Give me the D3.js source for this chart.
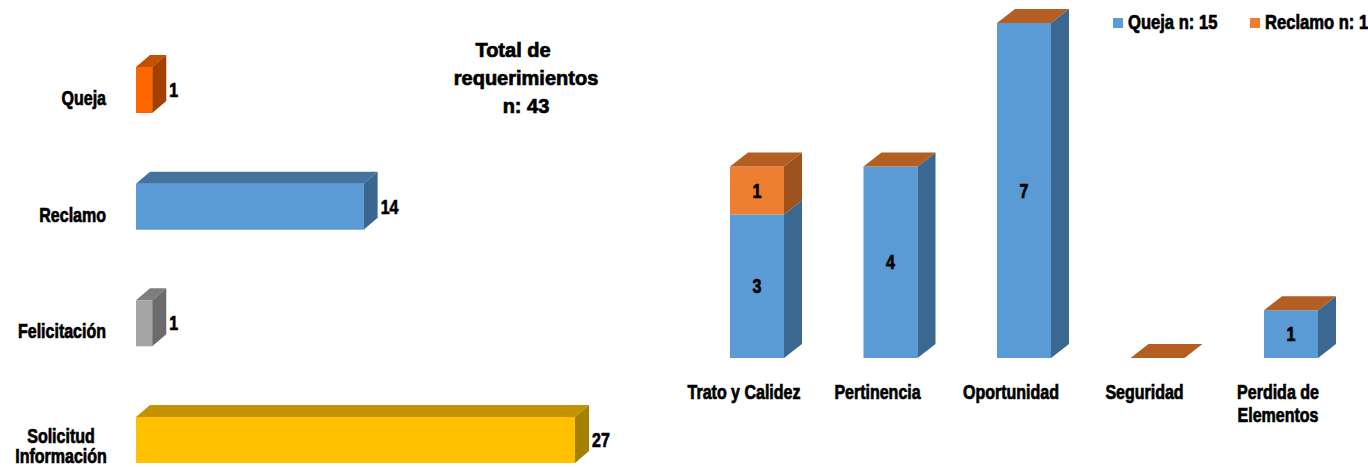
<!DOCTYPE html>
<html>
<head>
<meta charset="UTF-8">
<title>Requerimientos</title>
<script src="https://d3js.org/d3.v7.min.js"></script>
<style>
  body { margin: 0; padding: 0; background: #fff; }
  svg text { font-family: "Liberation Sans", Arial, sans-serif; font-weight: bold; fill: #000; stroke: #000; stroke-width: 0.7px; }
</style>
</head>
<body>
<svg id="chart" width="1368" height="467"></svg>
<script>
// ---- datos ----
const tipoLabels = [["Queja"], ["Reclamo"], ["Felicitación"], ["Solicitud", "Información"]];
const tipoCats = tipoLabels.map(d => d.join(" "));
const tipoValues = [1, 14, 1, 27];

const motivoLabels = [["Trato y Calidez"], ["Pertinencia"], ["Oportunidad"], ["Seguridad"], ["Perdida de", "Elementos"]];
const motivoCats = motivoLabels.map(d => d.join(" "));
const quejaValues = [3, 4, 7, 0, 1];
const reclamoValues = [1, 0, 0, 0, 0];
const seriesNames = ["Queja n: 15", "Reclamo n: 1"];
const titleLines = ["Total de", "requerimientos", "n: 43"];

// ---- estilos ----
const tipoColors = [
  { front: "#FF6600", top: "#C25000", side: "#A33F00" },
  { front: "#5B9BD5", top: "#44739E", side: "#3A6690" },
  { front: "#A5A5A5", top: "#7E7E7E", side: "#6B6B6B" },
  { front: "#FFC000", top: "#C49300", side: "#A68000" }
];
const serieColors = [
  { front: "#5B9BD5", side: "#3B6890", top: "#B45E22" },
  { front: "#ED7D31", side: "#9E521E", top: "#B45E22" }
];
const SX = 0.8; // letra condensada

const svg = d3.select("#chart");

function face(g, pts, fill) {
  g.append("polygon")
    .attr("points", pts.map(p => p.join(",")).join(" "))
    .attr("fill", fill);
}

// texto comprimido horizontalmente
function label(g, x, y, s, size, anchor, sx) {
  return g.append("text")
    .attr("transform", `translate(${x},${y}) scale(${sx},1)`)
    .attr("text-anchor", anchor || "start")
    .attr("font-size", size)
    .text(s);
}

// ================= gráfico izquierdo (barras horizontales) =================
const left = svg.append("g");
const xL = d3.scaleLinear().domain([0, 27]).range([136, 575]);
const yL = d3.scalePoint().domain(tipoCats).range([90, 440]);
const barH = 46, ldx = 14, ldy = 12;

tipoCats.forEach((c, i) => {
  const x0 = xL(0), x1 = xL(tipoValues[i]);
  const y0 = yL(c) - barH / 2, y1 = yL(c) + barH / 2;
  const col = tipoColors[i];
  face(left, [[x0, y0], [x1, y0], [x1, y1], [x0, y1]], col.front);
  face(left, [[x0, y0], [x0 + ldx, y0 - ldy], [x1 + ldx, y0 - ldy], [x1, y0]], col.top);
  face(left, [[x1, y0], [x1 + ldx, y0 - ldy], [x1 + ldx, y1 - ldy], [x1, y1]], col.side);

  label(left, x1 + ldx + 3, yL(c) + 7, tipoValues[i], 20, "start", SX);

  const lines = tipoLabels[i];
  if (lines.length === 1) {
    label(left, 106, yL(c) + 15, lines[0], 20, "end", SX);
  } else {
    lines.forEach((t, k) => label(left, 61, yL(c) + 3 + k * 20, t, 20, "middle", SX));
  }
});

// título
titleLines.forEach((t, k) => {
  label(left, k === 0 ? 513 : 526, 57 + k * 28, t, 20, "middle", 1);
});

// ================= gráfico derecho (columnas apiladas) =================
const right = svg.append("g");
const xR = d3.scalePoint().domain(motivoCats).range([757, 1291]);
const yR = d3.scaleLinear().domain([0, 7]).range([358, 23]);
const barW = 54, rdx = 18, rdy = 14;

const tabla = motivoCats.map((c, i) => ({ cat: c, Queja: quejaValues[i], Reclamo: reclamoValues[i] }));
const stacked = d3.stack().keys(["Queja", "Reclamo"])(tabla);

motivoCats.forEach((c, i) => {
  const cx = xR(c), x0 = cx - barW / 2, x1 = cx + barW / 2;
  stacked.forEach((s, si) => {
    const [v0, v1] = s[i];
    const yb = yR(v0), yt = yR(v1);
    const col = serieColors[si];
    if (v1 > v0) {
      face(right, [[x0, yt], [x1, yt], [x1, yb], [x0, yb]], col.front);
      face(right, [[x1, yt], [x1 + rdx, yt - rdy], [x1 + rdx, yb - rdy], [x1, yb]], col.side);
      label(right, cx, (yt + yb) / 2 + 7, v1 - v0, 20, "middle", SX);
    }
  });
  // tapa superior de la pila
  const top = stacked[stacked.length - 1][i][1];
  const yt = yR(top);
  face(right, [[x0, yt], [x0 + rdx, yt - rdy], [x1 + rdx, yt - rdy], [x1, yt]], serieColors[1].top);

  motivoLabels[i].forEach((t, k) => label(right, cx - 13, 399 + k * 23, t, 20, "middle", SX));
});

// leyenda
const legX = [1113, 1250];
seriesNames.forEach((n, i) => {
  right.append("rect")
    .attr("x", legX[i]).attr("y", 18)
    .attr("width", 10).attr("height", 10)
    .attr("fill", serieColors[i].front);
  label(right, legX[i] + 15, 29, n, 20, "start", 0.83);
});
</script>
</body>
</html>
